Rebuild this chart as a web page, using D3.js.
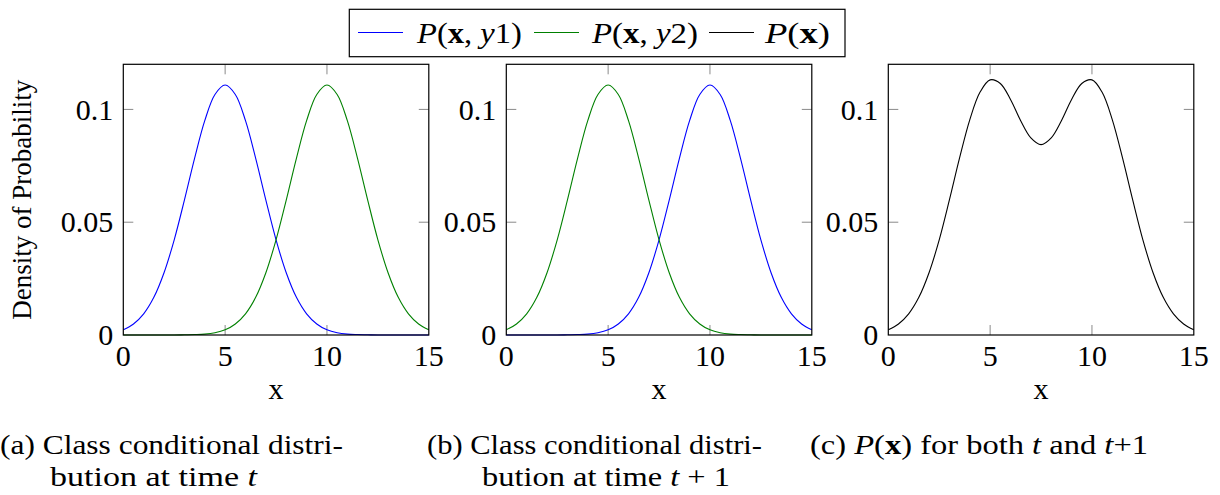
<!DOCTYPE html>
<html>
<head>
<meta charset="utf-8">
<script src="https://cdn.jsdelivr.net/npm/d3@7"></script>
<style>
  body { margin: 0; background: #fff; }
  svg { display: block; }
  text { font-family: "Liberation Serif", "Times New Roman", serif; fill: #000; }
</style>
</head>
<body>
<svg id="chart" width="1220" height="495"></svg>
<script>
const xPos = [0, 0.5, 1, 1.5, 2, 2.5, 3, 3.5, 4, 4.5, 5, 5.5, 6, 6.5, 7, 7.5,
  8, 8.5, 9, 9.5, 10, 10.5, 11, 11.5, 12, 12.5, 13, 13.5, 14, 14.5, 15];
const densityAt5 = [0.0023, 0.0049, 0.0094, 0.0167, 0.0276, 0.0422, 0.0598, 0.0783, 0.0950, 0.1066,
  0.1108, 0.1066, 0.0950, 0.0783, 0.0598, 0.0422, 0.0276, 0.0167, 0.0094, 0.0049,
  0.0023, 0.0010, 0.0004, 0.0002, 0.0001, 0, 0, 0, 0, 0, 0];
const densityAt10 = [0, 0, 0, 0, 0, 0, 0.0001, 0.0002, 0.0004, 0.0010,
  0.0023, 0.0049, 0.0094, 0.0167, 0.0276, 0.0422, 0.0598, 0.0783, 0.0950, 0.1066,
  0.1108, 0.1066, 0.0950, 0.0783, 0.0598, 0.0422, 0.0276, 0.0167, 0.0094, 0.0049, 0.0023];
const marginal = [0.0023, 0.0049, 0.0094, 0.0167, 0.0276, 0.0422, 0.0599, 0.0785, 0.0954, 0.1076,
  0.1131, 0.1115, 0.1044, 0.0950, 0.0874, 0.0844, 0.0874, 0.0950, 0.1044, 0.1115,
  0.1131, 0.1076, 0.0954, 0.0785, 0.0599, 0.0422, 0.0276, 0.0167, 0.0094, 0.0049, 0.0023];

const xTicks = [0, 5, 10, 15];
const yTicks = [0, 0.05, 0.1];
const yTickLabels = ["0", "0.05", "0.1"];

const BLUE = "#0000ff", GREEN = "#008000", BLACK = "#000000";

const svg = d3.select("#chart");

// panel frames (pixel layout)
const plotTop = 64.3, plotBottom = 335, panelW = 305.5;
const panels = [
  { left: 123.3, lines: [{ v: densityAt5, c: BLUE }, { v: densityAt10, c: GREEN }] },
  { left: 506.3, lines: [{ v: densityAt10, c: BLUE }, { v: densityAt5, c: GREEN }] },
  { left: 888.3, lines: [{ v: marginal, c: BLACK }] }
];

// write mixed italic / bold pieces into a text node
function rich(sel, parts) {
  parts.forEach(p => {
    const t = sel.append("tspan").text(p[0]);
    if (p[1] === "i") t.style("font-style", "italic");
    if (p[1] === "b") t.style("font-weight", "bold");
  });
  return sel;
}

panels.forEach((p, idx) => {
  const x = d3.scaleLinear().domain([0, 15]).range([p.left, p.left + panelW]);
  const y = d3.scaleLinear().domain([0, 0.12]).range([plotBottom, plotTop]);
  const g = svg.append("g");

  // inward ticks on all four sides
  const tickLen = 10;
  xTicks.slice(1, -1).forEach(t => {
    g.append("line").attr("x1", x(t)).attr("x2", x(t)).attr("y1", plotBottom).attr("y2", plotBottom - tickLen)
      .attr("stroke", "#8a8a8a").attr("stroke-width", 1);
    g.append("line").attr("x1", x(t)).attr("x2", x(t)).attr("y1", plotTop).attr("y2", plotTop + tickLen)
      .attr("stroke", "#8a8a8a").attr("stroke-width", 1);
  });
  yTicks.slice(1).forEach(t => {
    g.append("line").attr("x1", p.left).attr("x2", p.left + tickLen).attr("y1", y(t)).attr("y2", y(t))
      .attr("stroke", "#8a8a8a").attr("stroke-width", 1);
    g.append("line").attr("x1", p.left + panelW).attr("x2", p.left + panelW - tickLen).attr("y1", y(t)).attr("y2", y(t))
      .attr("stroke", "#8a8a8a").attr("stroke-width", 1);
  });

  // curves
  const line = d3.line()
    .x((d, i) => x(xPos[i]))
    .y(d => y(d))
    .curve(d3.curveCatmullRom.alpha(0.5));
  p.lines.forEach(s => {
    g.append("path").datum(s.v).attr("d", line)
      .attr("fill", "none").attr("stroke", s.c).attr("stroke-width", 1.1);
  });

  // frame
  g.append("rect").attr("x", p.left).attr("y", plotTop).attr("width", panelW).attr("height", plotBottom - plotTop)
    .attr("fill", "none").attr("stroke", "#000").attr("stroke-width", 1.2);

  // tick labels
  g.selectAll(".xl").data(xTicks).enter().append("text")
    .attr("x", d => x(d)).attr("y", 366).attr("text-anchor", "middle")
    .style("font-size", "30px").text(d => d);
  g.selectAll(".yl").data(yTicks).enter().append("text")
    .attr("x", p.left - 10).attr("y", d => y(d)).attr("dy", "0.34em").attr("text-anchor", "end")
    .style("font-size", "30px").text((d, i) => yTickLabels[i]);

  // axis label
  g.append("text").attr("x", p.left + panelW / 2).attr("y", 399).attr("text-anchor", "middle")
    .style("font-size", "30px").text("x");

  if (idx === 0) {
    g.append("text")
      .attr("transform", `translate(31,${(plotTop + plotBottom) / 2}) rotate(-90)`)
      .attr("text-anchor", "middle")
      .style("font-size", "27px")
      .text("Density of Probability");
  }
});

// legend
const legend = svg.append("g");
legend.append("rect").attr("x", 349.3).attr("y", 9.3).attr("width", 495.7).attr("height", 47.4)
  .attr("fill", "#fff").attr("stroke", "#000").attr("stroke-width", 1.2);
const legendItems = [
  { c: BLUE, x1: 358, tx: 417, w: 105, parts: [["P", "i"], ["("], ["x", "b"], [", "], ["y", "i"], ["1)"]] },
  { c: GREEN, x1: 534, tx: 592, w: 106, parts: [["P", "i"], ["("], ["x", "b"], [", "], ["y", "i"], ["2)"]] },
  { c: BLACK, x1: 709, tx: 765, w: 65, parts: [["P", "i"], ["("], ["x", "b"], [")"]] }
];
legendItems.forEach(it => {
  legend.append("line").attr("x1", it.x1).attr("x2", it.x1 + 45).attr("y1", 32.5).attr("y2", 32.5)
    .attr("stroke", it.c).attr("stroke-width", 1.1);
  rich(legend.append("text").attr("x", it.tx).attr("y", 43).style("font-size", "30px")
    .attr("textLength", it.w).attr("lengthAdjust", "spacingAndGlyphs"), it.parts);
});

// sub captions
const caps = svg.append("g").style("font-size", "27px");
rich(caps.append("text").attr("x", 0).attr("y", 454).attr("textLength", 343).attr("lengthAdjust", "spacingAndGlyphs"),
  [["(a) Class conditional distri-"]]);
rich(caps.append("text").attr("x", 50).attr("y", 486).attr("textLength", 207).attr("lengthAdjust", "spacingAndGlyphs"),
  [["bution at time "], ["t", "i"]]);
rich(caps.append("text").attr("x", 427).attr("y", 454).attr("textLength", 335).attr("lengthAdjust", "spacingAndGlyphs"),
  [["(b) Class conditional distri-"]]);
rich(caps.append("text").attr("x", 482).attr("y", 486).attr("textLength", 248).attr("lengthAdjust", "spacingAndGlyphs"),
  [["bution at time "], ["t", "i"], [" + 1"]]);
rich(caps.append("text").attr("x", 810).attr("y", 454).attr("textLength", 338).attr("lengthAdjust", "spacingAndGlyphs"),
  [["(c) "], ["P", "i"], ["("], ["x", "b"], [") for both "], ["t", "i"], [" and "], ["t", "i"], ["+1"]]);
</script>
</body>
</html>
